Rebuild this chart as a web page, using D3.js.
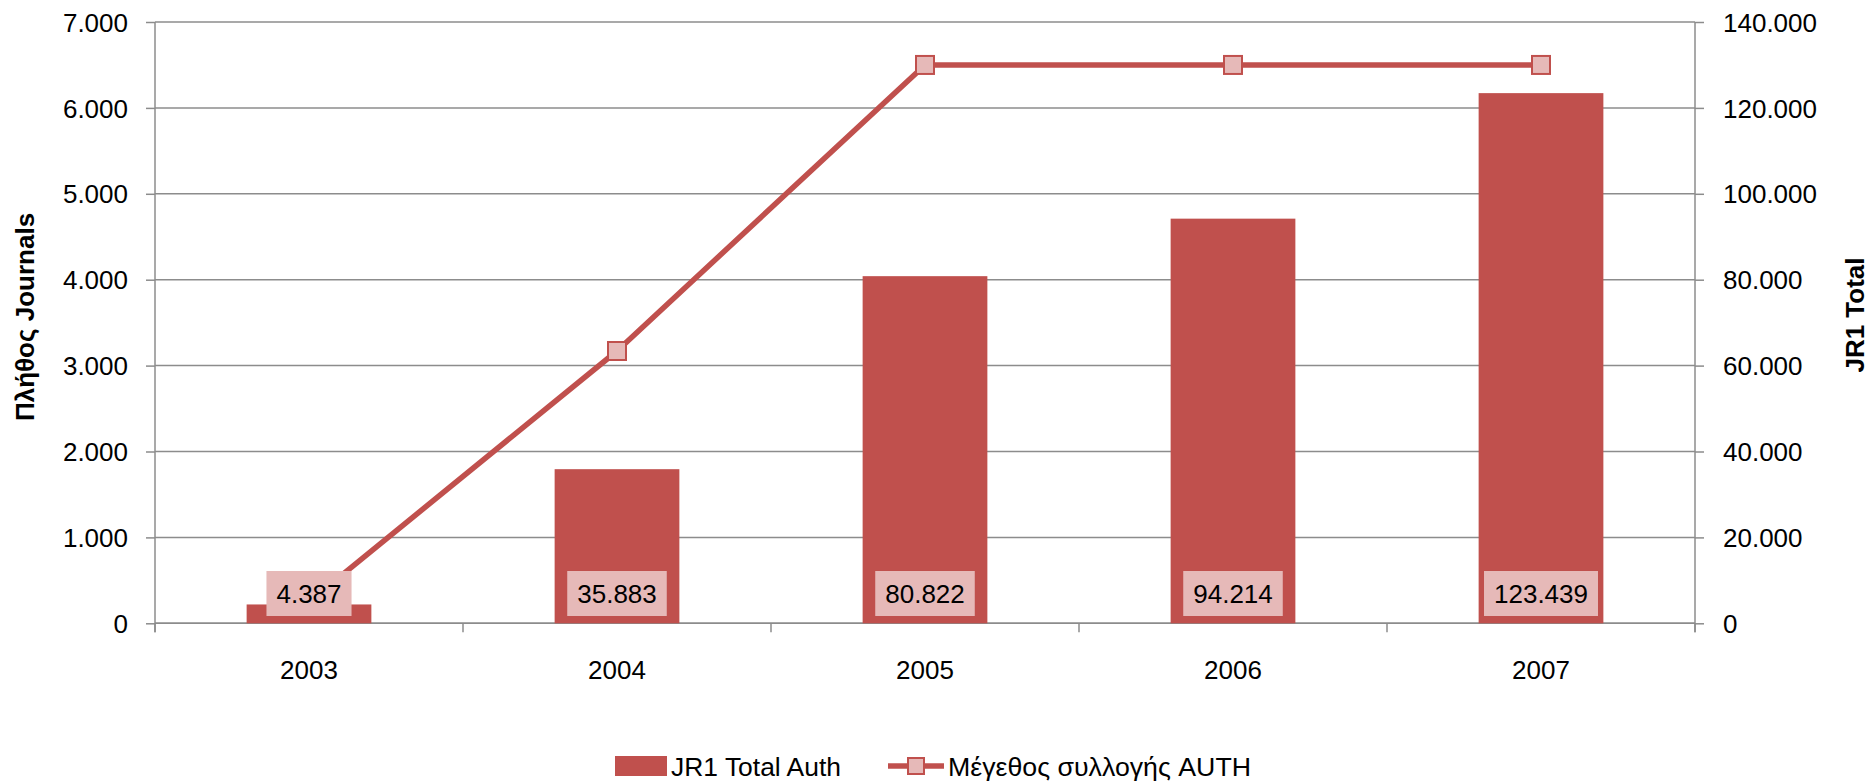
<!DOCTYPE html>
<html><head><meta charset="utf-8">
<script src="https://cdn.jsdelivr.net/npm/d3@7"></script>
<style>body{margin:0;background:#fff;} text{font-family:"Liberation Sans",Arial,sans-serif;}</style>
</head><body>
<svg id="c" width="1872" height="781"></svg>
<script>
const years = ["2003","2004","2005","2006","2007"];
const jr1Total = [4387, 35883, 80822, 94214, 123439];
const collectionSize = [250, 3170, 6500, 6500, 6500];
const leftTicks = [0,1000,2000,3000,4000,5000,6000,7000];
const rightTicks = [0,20000,40000,60000,80000,100000,120000,140000];
const seriesNames = ["JR1 Total Auth","Μέγεθος συλλογής AUTH"];

const fmt = v => d3.format(",")(v).replace(/,/g,".");
const svg = d3.select("#c");
const L=155, R=1695, T=22, B=623.3;
const x = d3.scaleBand().domain(years).range([L,R]);
const yL = d3.scaleLinear().domain([0,7000]).range([B,T]);
const yR = d3.scaleLinear().domain([0,140000]).range([B,T]);
const grey = "#8c8c8c", red="#C0504D", pink="#E6B9B8";

// gridlines
svg.append("g").selectAll("line").data(leftTicks).join("line")
  .attr("x1",L).attr("x2",R).attr("y1",d=>yL(d)).attr("y2",d=>yL(d))
  .attr("stroke",grey).attr("stroke-width",1.5);

// axes
const gl = svg.append("g").attr("transform",`translate(${L},0)`)
  .call(d3.axisLeft(yL).tickValues(leftTicks).tickFormat(fmt).tickSize(9).tickPadding(18));
const gr = svg.append("g").attr("transform",`translate(${R},0)`)
  .call(d3.axisRight(yR).tickValues(rightTicks).tickFormat(fmt).tickSize(9).tickPadding(19));
[gl,gr].forEach(g=>{
  g.select(".domain").attr("stroke",grey).attr("stroke-width",1.5).attr("d",`M0,${T}V${B+9}`);
  g.selectAll(".tick line").attr("stroke",grey).attr("stroke-width",1.5);
  g.selectAll(".tick text").attr("font-size",26).attr("fill","#000").attr("font-family","Liberation Sans").attr("dy","0.35em");
});

// bottom axis with ticks at category boundaries
const gb = svg.append("g");
gb.append("line").attr("x1",L).attr("x2",R).attr("y1",B).attr("y2",B).attr("stroke",grey).attr("stroke-width",1.5);
const bounds = years.map(d=>x(d)).concat([R]);
gb.selectAll(".bt").data(bounds).join("line").attr("class","bt")
  .attr("x1",d=>d).attr("x2",d=>d).attr("y1",B).attr("y2",B+9).attr("stroke",grey).attr("stroke-width",1.5);
gb.selectAll(".xl").data(years).join("text").attr("class","xl")
  .attr("x",d=>x(d)+x.bandwidth()/2).attr("y",679).attr("text-anchor","middle")
  .attr("font-size",26).text(d=>d);

// bars
const bw = x.bandwidth()*0.405;
svg.append("g").selectAll("rect").data(jr1Total).join("rect")
  .attr("x",(d,i)=>x(years[i])+x.bandwidth()/2-bw/2).attr("width",bw)
  .attr("y",d=>yR(d)).attr("height",d=>B-yR(d)).attr("fill",red);

// line
const line = d3.line().x((d,i)=>x(years[i])+x.bandwidth()/2).y(d=>yL(d));
svg.append("path").datum(collectionSize).attr("d",line).attr("fill","none")
  .attr("stroke",red).attr("stroke-width",5.5).attr("stroke-linejoin","round");
svg.append("g").selectAll("rect").data(collectionSize).join("rect")
  .attr("x",(d,i)=>x(years[i])+x.bandwidth()/2-9).attr("y",d=>yL(d)-9)
  .attr("width",18).attr("height",18).attr("fill",pink).attr("stroke",red).attr("stroke-width",2);

// data labels
const lg = svg.append("g");
jr1Total.forEach((v,i)=>{
  const cx = x(years[i])+x.bandwidth()/2;
  const t = lg.append("text").attr("x",cx).attr("y",603).attr("text-anchor","middle")
    .attr("font-size",26).text(fmt(v));
  const w = t.node().getComputedTextLength();
  lg.insert("rect","text").attr("x",cx-w/2-10).attr("width",w+20).attr("y",571).attr("height",45).attr("fill",pink);
});

// axis titles
svg.append("text").attr("transform","translate(34,317) rotate(-90)").attr("text-anchor","middle")
  .attr("font-size",26).attr("font-weight","bold").text("Πλήθος Journals");
svg.append("text").attr("transform","translate(1864,315) rotate(-90)").attr("text-anchor","middle")
  .attr("font-size",26).attr("font-weight","bold").text("JR1 Total");

// legend
const leg = svg.append("g");
leg.append("rect").attr("x",615).attr("y",756).attr("width",52).attr("height",20).attr("fill",red);
leg.append("text").attr("x",671).attr("y",776).attr("font-size",26)
  .attr("textLength",170).attr("lengthAdjust","spacingAndGlyphs").text(seriesNames[0]);
leg.append("line").attr("x1",888).attr("x2",944).attr("y1",766).attr("y2",766).attr("stroke",red).attr("stroke-width",5.5);
leg.append("rect").attr("x",908).attr("y",758).attr("width",16).attr("height",16).attr("fill",pink).attr("stroke",red).attr("stroke-width",2);
leg.append("text").attr("x",948).attr("y",776).attr("font-size",26)
  .attr("textLength",303).attr("lengthAdjust","spacingAndGlyphs").text(seriesNames[1]);
</script>
</body></html>
